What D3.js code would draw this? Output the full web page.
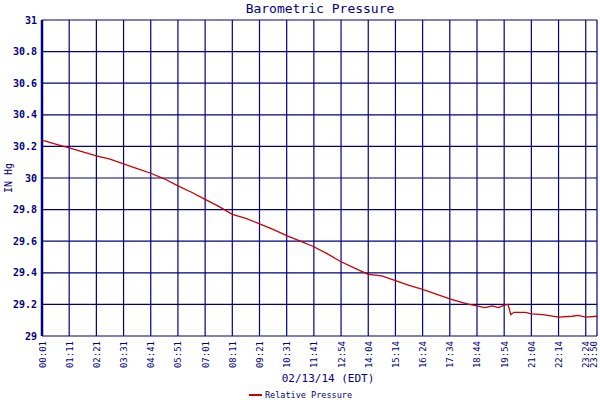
<!DOCTYPE html><html><head><meta charset="utf-8"><script src="https://cdn.jsdelivr.net/npm/d3@7"></script>
<style>body{margin:0;background:#fff}text{font-family:"DejaVu Sans Mono",monospace;fill:#000080}</style></head><body>
<svg id="c" width="600" height="400"></svg>
<script>
const tickMinutes=[0,70,140,210,280,350,420,490,560,630,700,770,840,910,980,1050,1120,1190,1260,1330,1400,1429];
const tickLabels=["00:01","01:11","02:21","03:31","04:41","05:51","07:01","08:11","09:21","10:31","11:41","12:54","14:04","15:14","16:24","17:34","18:44","19:54","21:04","22:14","23:24","23:50"];
const yTicks=[29,29.2,29.4,29.6,29.8,30,30.2,30.4,30.6,30.8,31];
const minutes=[0,35,70,105,140,175,210,245,280,315,350,385,420,455,490,525,560,595,630,665,700,735,770,805,840,875,910,945,980,1015,1050,1085,1100,1120,1140,1160,1175,1190,1200,1207,1215,1230,1245,1260,1290,1330,1365,1380,1400,1429];
const pressure=[30.24,30.215,30.19,30.165,30.14,30.12,30.09,30.06,30.03,29.995,29.95,29.91,29.865,29.82,29.77,29.745,29.71,29.675,29.635,29.60,29.565,29.52,29.47,29.43,29.39,29.38,29.35,29.32,29.295,29.265,29.235,29.21,29.20,29.19,29.18,29.19,29.18,29.195,29.20,29.135,29.15,29.15,29.15,29.14,29.135,29.12,29.125,29.13,29.12,29.125];
const svg=d3.select("#c");
const L=42,R=597,T=20,B=336;
const x=d3.scaleLinear().domain([0,1429]).range([L,R]);
const y=d3.scaleLinear().domain([29,31]).range([B,T]);
const g=svg.append("g");
g.selectAll("line.v").data(tickMinutes).join("line").attr("x1",d=>x(d)).attr("x2",d=>x(d)).attr("y1",T).attr("y2",B).attr("stroke","#000080").attr("stroke-width",1.2);
g.selectAll("line.h").data(yTicks).join("line").attr("x1",L).attr("x2",R).attr("y1",d=>y(d)).attr("y2",d=>y(d)).attr("stroke","#000080").attr("stroke-width",1.2);
g.append("line").attr("x1",L).attr("x2",L).attr("y1",T).attr("y2",B).attr("stroke","#000080").attr("stroke-width",2.5);
svg.selectAll("text.y").data(yTicks).join("text").attr("x",L-5).attr("y",d=>y(d)+3.5).attr("text-anchor","end").attr("font-size",10).attr("font-weight","bold").text(d=>d3.format("~g")(d));
svg.selectAll("text.x").data(tickMinutes).join("text").attr("transform",(d,i)=>`translate(${Math.min(x(d)+3.5,597)},${B+5}) rotate(-90)`).attr("text-anchor","end").attr("font-size",9).text((d,i)=>tickLabels[i]);
svg.append("path").datum(minutes.map((m,i)=>[m,pressure[i]])).attr("d",d3.line().x(d=>x(d[0])).y(d=>y(d[1]))).attr("fill","none").attr("stroke","#cc0000").attr("stroke-width",1.3);
svg.append("text").attr("x",320).attr("y",13).attr("text-anchor","middle").attr("font-size",13).text("Barometric Pressure");
svg.append("text").attr("transform","translate(12,178) rotate(-90)").attr("text-anchor","middle").attr("font-size",10).text("IN Hg");
svg.append("text").attr("x",328).attr("y",382).attr("text-anchor","middle").attr("font-size",11).text("02/13/14 (EDT)");
svg.append("line").attr("x1",249).attr("x2",262).attr("y1",395).attr("y2",395).attr("stroke","#cc0000").attr("stroke-width",2);
svg.append("text").attr("x",265).attr("y",398).attr("font-size",8.5).text("Relative Pressure");
</script></body></html>
